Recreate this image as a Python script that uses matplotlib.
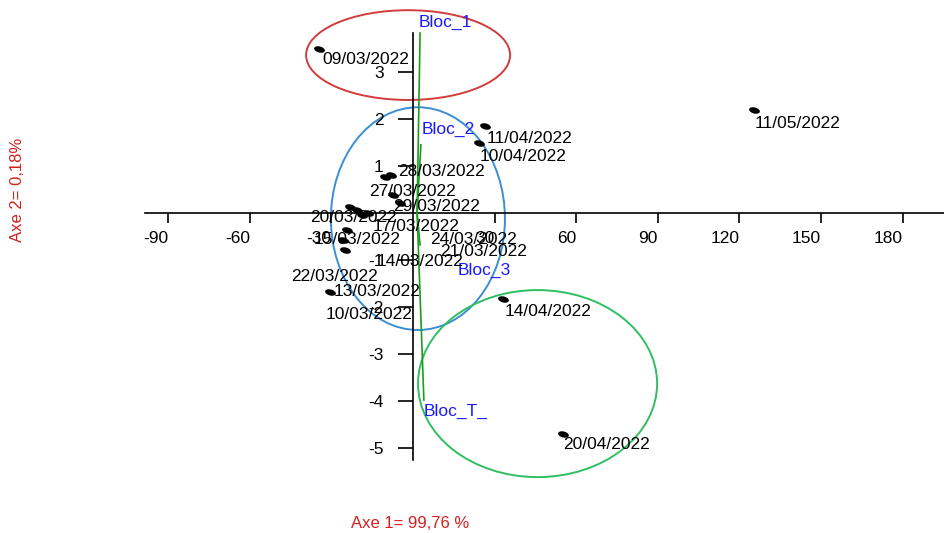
import numpy as np
import matplotlib
matplotlib.use("Agg")
import matplotlib.pyplot as plt
from matplotlib.patches import Ellipse
from matplotlib.path import Path

plt.rcParams['font.family'] = ['Liberation Sans', 'DejaVu Sans']

# Observations (dates) projected on the first factorial plane
dates = ["09/03/2022", "11/05/2022", "11/04/2022", "10/04/2022", "14/04/2022",
         "20/04/2022", "28/03/2022", "27/03/2022", "29/03/2022", "20/03/2022",
         "17/03/2022", "15/03/2022", "24/03/2022", "21/03/2022", "14/03/2022",
         "13/03/2022", "10/03/2022", "22/03/2022"]
axe1 = [-34.6, 125.4, 26.5, 24.3, 33.1, 55.1, -8.1, -7.4, -4.8, -23.2,
        -16.5, -24.3, -18.8, -20.6, -25.7, -25.0, -10.3, -30.5]
axe2 = [3.49, 2.19, 1.85, 1.49, -1.83, -4.70, 0.81, 0.38, 0.21, 0.13,
        0.00, -0.36, -0.04, 0.06, -0.57, -0.79, 0.77, -1.68]
# label offsets (pixels, x right / y up) chosen to reduce overlap
label_dx = [3, 1, 2, 1, 2, 0, 7, -24, -7, -40, 5, -33, 68, 83, 34, -11, -59, -39]
label_dy = [-11, -13, -12, -14, -13, -11, 3, 4, -3, -11, -14, -10, -25, -41, -22, -41, -138, 15]

# Variables (blocks)
blocs = ["Bloc_1", "Bloc_2", "Bloc_3", "Bloc_T_"]
bloc_x = [2.6, 2.9, 2.6, 4.0]
bloc_y = [3.83, 1.45, -0.68, -3.98]
bloc_origin = (1.5, 0.0)
bloc_dx = [-1, 1, 38, 0]
bloc_dy = [11, 15, -25, -11]

# Group ellipses: centre x, centre y, width, height
groups_cx = [-1.8, 1.8, 45.8]
groups_cy = [3.36, -0.12, -3.63]
groups_w = [75.0, 64.0, 87.9]
groups_h = [1.91, 4.74, 3.98]
groups_col = ["#d23c3c", "#3a8fd4", "#2fbf62"]

xticks = [-90, -60, -30, 30, 60, 90, 120, 150, 180]
yticks = [-5, -4, -3, -2, -1, 1, 2, 3]

fig = plt.figure(figsize=(9.44, 5.33), dpi=100)
ax = fig.add_axes([0, 0, 1, 1])
ax.set_xlim(-151.84, 195.22)
ax.set_ylim(-6.809, 4.532)

# axes crossing at origin
for s in ("top", "right"):
    ax.spines[s].set_visible(False)
ax.spines["left"].set_position(("data", 0))
ax.spines["bottom"].set_position(("data", 0))
ax.spines["left"].set_bounds(-5.26, 3.83)
ax.spines["bottom"].set_bounds(-98.5, 195.22)
for s in ("left", "bottom"):
    ax.spines[s].set_linewidth(1.2)
    ax.spines[s].set_color("black")
    ax.spines[s].set_zorder(2)

ax.set_xticks(xticks)
ax.set_xticklabels([str(v) for v in xticks])
ax.set_yticks(yticks)
ax.set_yticklabels([str(v) for v in yticks])
ax.tick_params(axis="x", direction="out", length=7, width=1.2, pad=6,
               labelsize=12.5, labelcolor="black")
ax.tick_params(axis="y", direction="out", length=11, width=1.2, pad=10,
               labelsize=12.5, labelcolor="black")
for t in ax.get_xticklabels():
    t.set_ha("right")
ax.patch.set_visible(False)

# ellipses around groups
for cx, cy, w, h, c in zip(groups_cx, groups_cy, groups_w, groups_h, groups_col):
    ax.add_patch(Ellipse((cx, cy), w, h, fill=False, edgecolor=c, lw=1.4, zorder=1))

# variable vectors
for name, bx, by, dx, dy in zip(blocs, bloc_x, bloc_y, bloc_dx, bloc_dy):
    ax.plot([bloc_origin[0], bx], [bloc_origin[1], by], color="#1f9a1f", lw=1.2, zorder=3)
    ax.annotate(name, (bx, by), xytext=(dx, dy), textcoords="offset pixels",
                color="#1a1aff", fontsize=12.5, ha="left", va="center", zorder=5)

# tilted ellipse marker
th = np.linspace(0, 2 * np.pi, 40)
ang = np.deg2rad(-15)
ex, ey = np.cos(th), 0.55 * np.sin(th)
verts = np.column_stack([ex * np.cos(ang) - ey * np.sin(ang), ex * np.sin(ang) + ey * np.cos(ang)])
marker = Path(verts, closed=True)
ax.scatter(axe1, axe2, marker=marker, s=60, color="black", zorder=4, linewidths=0)

for d, x, y, dx, dy in zip(dates, axe1, axe2, label_dx, label_dy):
    ax.annotate(d, (x, y), xytext=(dx, dy), textcoords="offset pixels",
                color="black", fontsize=12.5, ha="left", va="center", zorder=5)

fig.text(410 / 944, 10 / 533, "Axe 1= 99,76 %", color="#d42020", fontsize=12,
         ha="center", va="center")
fig.text(18 / 944, 1 - 190 / 533, "Axe 2= 0,18%", color="#d42020", fontsize=12,
         ha="center", va="center", rotation=90)

fig.savefig("out.png", dpi=100)
